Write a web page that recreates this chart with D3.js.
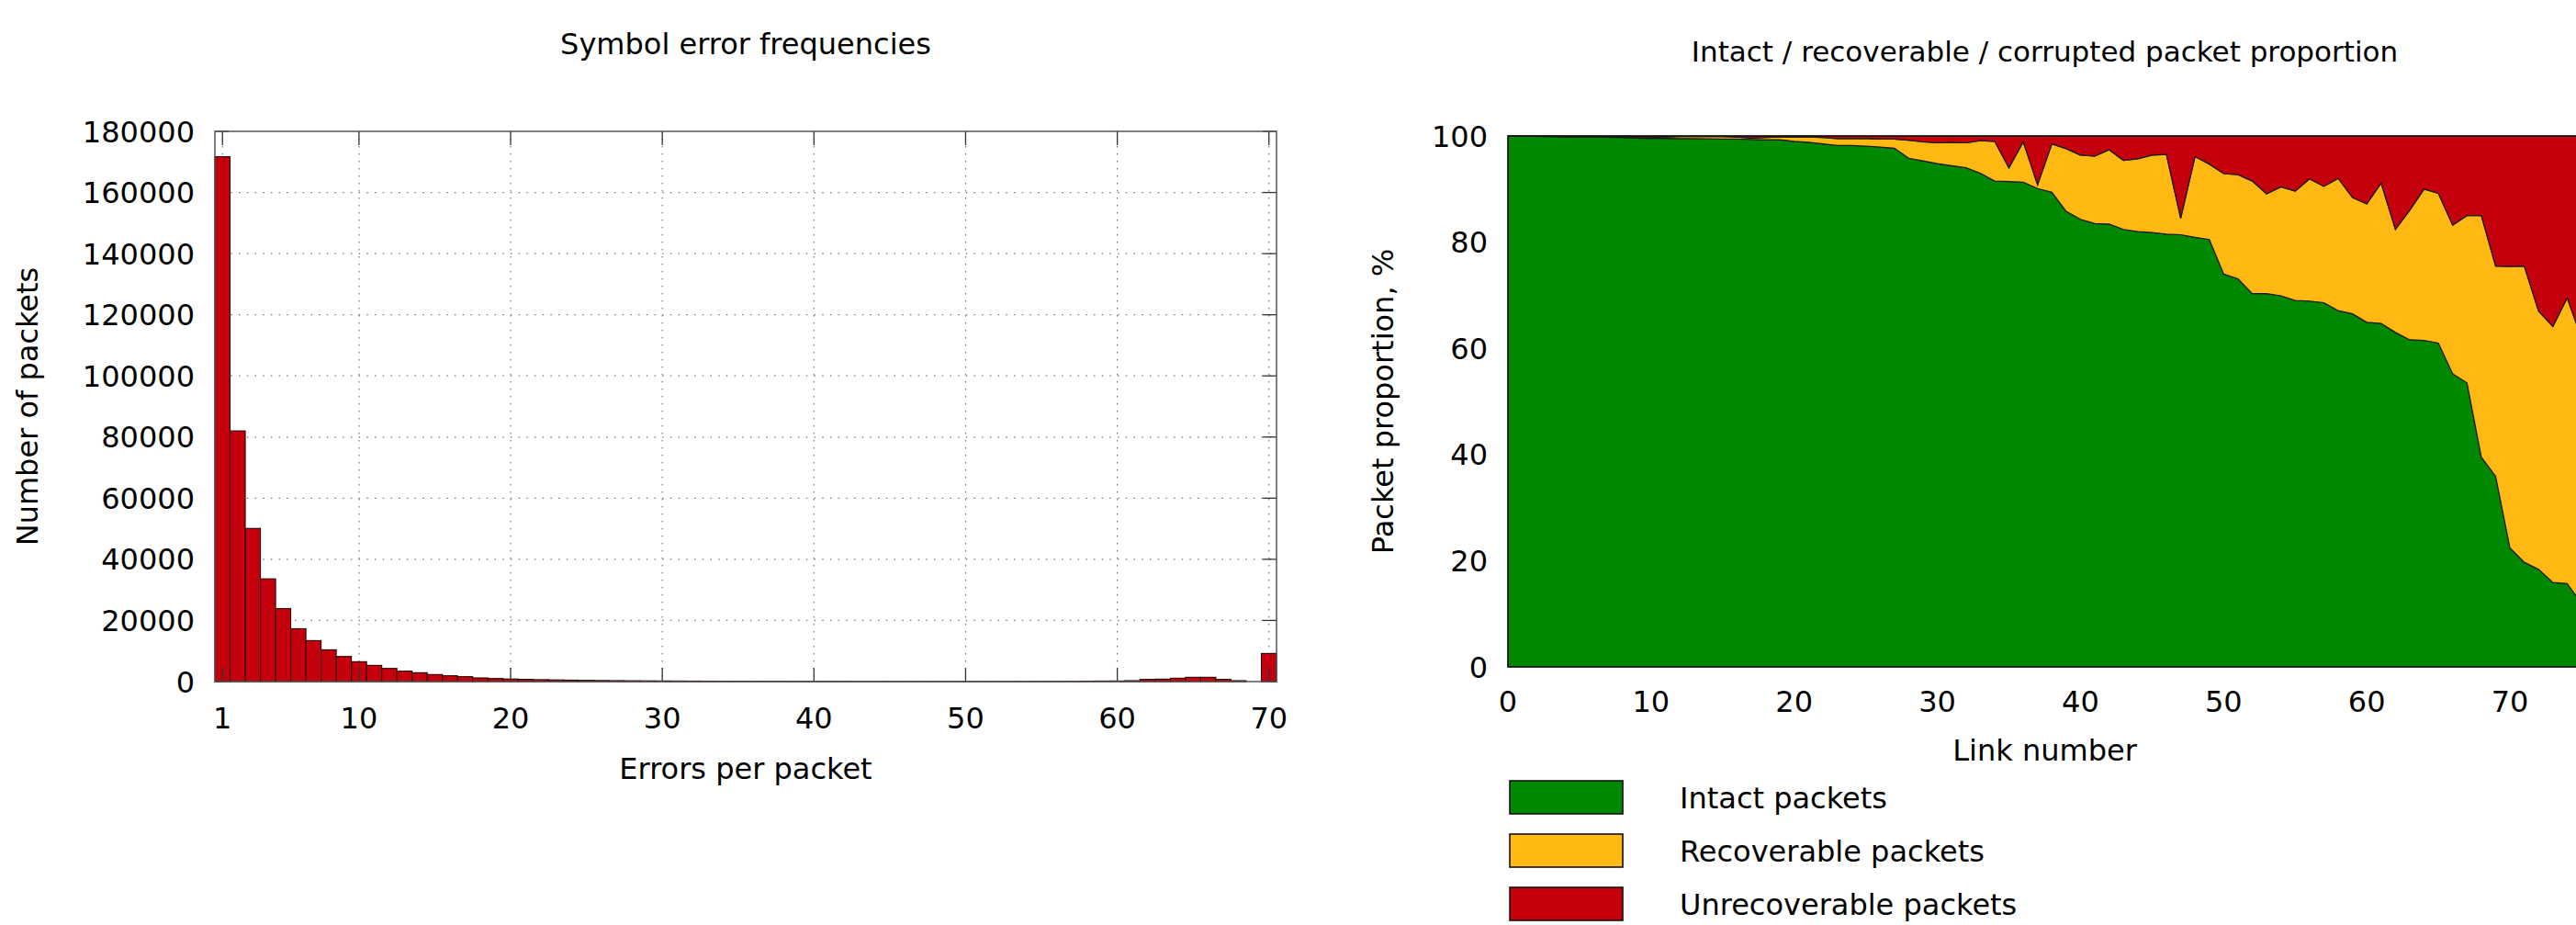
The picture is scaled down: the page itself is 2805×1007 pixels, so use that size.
<!DOCTYPE html>
<html>
<head>
<meta charset="utf-8">
<script src="https://cdn.jsdelivr.net/npm/d3@7"></script>
<style>
  html, body { margin: 0; padding: 0; background: #fff; }
  svg { display: block; }
  text { font-family: "DejaVu Sans", sans-serif; font-size: 32px; fill: #000; }
</style>
</head>
<body>
<svg id="chart" width="2805" height="1007"></svg>
<script>
// ---- Histogram: symbol errors per packet ----
const errorsPerPacket = d3.range(1, 71);
const packetCounts = [
  171700, 82000, 50100, 33600, 23900, 17300, 13400, 10400, 8200, 6500,
  5300, 4300, 3400, 2900, 2300, 1900, 1600, 1200, 1000, 850,
  720, 620, 540, 470, 400, 350, 310, 270, 240, 210,
  190, 170, 150, 130, 110, 100, 90, 80, 70, 60,
  55, 50, 45, 40, 40, 35, 35, 30, 30, 30,
  30, 35, 40, 45, 50, 60, 80, 150, 180, 200,
  300, 700, 800, 1100, 1400, 1400, 700, 300, 0, 9200
];
const histXTicks = [1, 10, 20, 30, 40, 50, 60, 70];
const histYTicks = [0, 20000, 40000, 60000, 80000, 100000, 120000, 140000, 160000, 180000];

// ---- Stacked area: packet outcome proportion per link ----
const linkNumbers = d3.range(0, 76);
const intactPct = [
  100, 99.95, 99.93, 99.9, 99.85, 99.8, 99.8, 99.75, 99.7, 99.6,
  99.55, 99.55, 99.5, 99.5, 99.45, 99.4, 99.4, 99.35, 99.3, 99.3,
  99.0, 98.8, 98.5, 98.2, 98.2, 98.1, 97.9, 97.7, 95.8, 95.3,
  94.8, 94.4, 94.0, 93.0, 91.5, 91.4, 91.3, 90.1, 89.4, 85.8,
  84.3, 83.5, 83.4, 82.4, 82.0, 81.8, 81.5, 81.4, 80.9, 80.5,
  74.0, 73.1, 70.3, 70.3, 69.9, 69.0, 68.9, 68.6, 67.1, 66.5,
  64.9, 64.7, 63.0, 61.6, 61.5, 61.0, 55.2, 53.5, 39.5, 35.9,
  22.4, 19.7, 18.4, 15.9, 15.7, 12.0
];
const recoverablePct = [
  0, 0, 0.02, 0.05, 0.05, 0.1, 0.1, 0.15, 0.15, 0.1,
  0.15, 0.25, 0.4, 0.4, 0.45, 0.5, 0.4, 0.25, 0.4, 0.5,
  0.8, 1.0, 1.2, 1.3, 1.3, 1.4, 1.5, 1.7, 3.4, 3.6,
  3.9, 4.4, 4.7, 6.1, 7.5, 2.6, 7.6, 0.7, 9.1, 11.8,
  12.1, 12.7, 14.0, 13.0, 13.7, 14.6, 15.0, 3.1, 15.2, 14.2,
  18.9, 19.6, 21.2, 18.8, 20.5, 20.6, 23.0, 21.9, 24.9, 21.9,
  22.3, 26.4, 19.4, 24.4, 28.5, 28.2, 28.0, 31.5, 45.5, 39.6,
  53.0, 55.8, 48.6, 48.2, 53.8, 50.0
];
const unrecoverablePct = [
  0, 0.05, 0.05, 0.05, 0.1, 0.1, 0.1, 0.1, 0.15, 0.3,
  0.3, 0.2, 0.1, 0.1, 0.1, 0.1, 0.2, 0.4, 0.3, 0.2,
  0.2, 0.2, 0.3, 0.5, 0.5, 0.5, 0.6, 0.6, 0.8, 1.1,
  1.3, 1.2, 1.3, 0.9, 1.0, 6.0, 1.1, 9.2, 1.5, 2.4,
  3.6, 3.8, 2.6, 4.6, 4.3, 3.6, 3.5, 15.5, 3.9, 5.3,
  7.1, 7.3, 8.5, 10.9, 9.6, 10.4, 8.1, 9.5, 8.0, 11.6,
  12.8, 8.9, 17.6, 14.0, 10.0, 10.8, 16.8, 15.0, 15.0, 24.5,
  24.6, 24.5, 33.0, 35.9, 30.5, 38.0
];
const seriesKeys = ["intact", "recoverable", "unrecoverable"];
const seriesLabels = ["Intact packets", "Recoverable packets", "Unrecoverable packets"];
const seriesColors = ["#008800", "#ffb912", "#c4000d"];
const linkXTicks = [0, 10, 20, 30, 40, 50, 60, 70];
const pctTicks = [0, 20, 40, 60, 80, 100];

const svg = d3.select("#chart");
svg.append("rect").attr("width", 2805).attr("height", 1007).attr("fill", "#fff");

// ================= Left panel: histogram =================
const H = { left: 234, right: 1390, top: 143, bottom: 742 };
const hx = d3.scaleLinear().domain([0.5, 70.5]).range([H.left, H.right]);
const hy = d3.scaleLinear().domain([0, 180000]).range([H.bottom, H.top]);
const hist = svg.append("g");

// dotted grid
hist.append("g").selectAll("line.vg").data(histXTicks).join("line")
  .attr("x1", d => hx(d)).attr("x2", d => hx(d))
  .attr("y1", H.top).attr("y2", H.bottom)
  .attr("stroke", "#777").attr("stroke-width", 1.2).attr("stroke-dasharray", "1.5,6.5");
hist.append("g").selectAll("line.hg").data(histYTicks.slice(1, -1)).join("line")
  .attr("x1", H.left).attr("x2", H.right)
  .attr("y1", d => hy(d)).attr("y2", d => hy(d))
  .attr("stroke", "#777").attr("stroke-width", 1.2).attr("stroke-dasharray", "1.5,7.2");

// y ticks (inside, mirrored)
const yTickG = hist.append("g");
yTickG.selectAll("line.l").data(histYTicks).join("line")
  .attr("x1", H.left).attr("x2", H.left + 15)
  .attr("y1", d => hy(d)).attr("y2", d => hy(d)).attr("stroke", "#333").attr("stroke-width", 1.3);
yTickG.selectAll("line.r").data(histYTicks).join("line")
  .attr("x1", H.right).attr("x2", H.right - 15)
  .attr("y1", d => hy(d)).attr("y2", d => hy(d)).attr("stroke", "#333").attr("stroke-width", 1.3);

// bars
hist.append("g").selectAll("rect").data(errorsPerPacket).join("rect")
  .attr("x", (d) => hx(d - 0.5))
  .attr("width", (d) => hx(d + 0.5) - hx(d - 0.5))
  .attr("y", (d, i) => hy(packetCounts[i]))
  .attr("height", (d, i) => hy(0) - hy(packetCounts[i]))
  .attr("fill", seriesColors[2])
  .attr("stroke", "#2a0000").attr("stroke-width", 1.1);

// x ticks (inside, mirrored) drawn over the bars
const xTickG = hist.append("g");
xTickG.selectAll("line.b").data(histXTicks).join("line")
  .attr("x1", d => hx(d)).attr("x2", d => hx(d))
  .attr("y1", H.bottom).attr("y2", H.bottom - 15).attr("stroke", "#333").attr("stroke-width", 1.3);
xTickG.selectAll("line.t").data(histXTicks).join("line")
  .attr("x1", d => hx(d)).attr("x2", d => hx(d))
  .attr("y1", H.top).attr("y2", H.top + 15).attr("stroke", "#333").attr("stroke-width", 1.3);

// frame
hist.append("rect")
  .attr("x", H.left).attr("y", H.top)
  .attr("width", H.right - H.left).attr("height", H.bottom - H.top)
  .attr("fill", "none").attr("stroke", "#555").attr("stroke-width", 1.5);

// tick labels
hist.append("g").selectAll("text").data(histYTicks).join("text")
  .attr("x", 212).attr("y", d => hy(d)).attr("dy", "0.36em")
  .attr("text-anchor", "end").text(d => d);
hist.append("g").selectAll("text").data(histXTicks).join("text")
  .attr("x", d => hx(d)).attr("y", 793)
  .attr("text-anchor", "middle").text(d => d);

// titles
hist.append("text").attr("x", (H.left + H.right) / 2).attr("y", 59)
  .attr("text-anchor", "middle").text("Symbol error frequencies");
hist.append("text").attr("x", (H.left + H.right) / 2).attr("y", 848)
  .attr("text-anchor", "middle").text("Errors per packet");
hist.append("text")
  .attr("transform", `translate(41,${(H.top + H.bottom) / 2}) rotate(-90)`)
  .attr("text-anchor", "middle").text("Number of packets");

// ================= Right panel: stacked proportions =================
const P = { left: 1642, right: 2811, top: 148, bottom: 726 };
const px = d3.scaleLinear().domain([0, 75]).range([P.left, P.right]);
const py = d3.scaleLinear().domain([0, 100]).range([P.bottom, P.top]);
const prop = svg.append("g");

const table = linkNumbers.map((n, i) => ({
  link: n,
  intact: intactPct[i],
  recoverable: recoverablePct[i],
  unrecoverable: unrecoverablePct[i]
}));
const stacked = d3.stack().keys(seriesKeys)(table);
const area = d3.area()
  .x(d => px(d.data.link))
  .y0(d => py(d[0]))
  .y1(d => py(d[1]));

prop.append("g").selectAll("path").data(stacked).join("path")
  .attr("d", area)
  .attr("fill", (d, i) => seriesColors[i])
  .attr("stroke", "#1a1a1a").attr("stroke-width", 1.2)
  .attr("stroke-linejoin", "miter");

// frame
prop.append("rect")
  .attr("x", P.left).attr("y", P.top)
  .attr("width", P.right - P.left).attr("height", P.bottom - P.top)
  .attr("fill", "none").attr("stroke", "#111").attr("stroke-width", 1.5);

// tick labels
prop.append("g").selectAll("text").data(pctTicks).join("text")
  .attr("x", 1620).attr("y", d => py(d)).attr("dy", "0.36em")
  .attr("text-anchor", "end").text(d => d);
prop.append("g").selectAll("text").data(linkXTicks).join("text")
  .attr("x", d => px(d)).attr("y", 775)
  .attr("text-anchor", "middle").text(d => d);

// titles
prop.append("text").attr("x", (P.left + P.right) / 2).attr("y", 67)
  .attr("text-anchor", "middle").style("font-size", "31px")
  .text("Intact / recoverable / corrupted packet proportion");
prop.append("text").attr("x", (P.left + P.right) / 2).attr("y", 828)
  .attr("text-anchor", "middle").text("Link number");
prop.append("text")
  .attr("transform", `translate(1517,${(P.top + P.bottom) / 2}) rotate(-90)`)
  .attr("text-anchor", "middle").text("Packet proportion, %");

// legend
const legend = prop.append("g").selectAll("g").data(seriesLabels).join("g")
  .attr("transform", (d, i) => `translate(1644,${850 + i * 58})`);
legend.append("rect")
  .attr("width", 123).attr("height", 36)
  .attr("fill", (d, i) => seriesColors[i])
  .attr("stroke", "#111").attr("stroke-width", 1.6);
legend.append("text")
  .attr("x", 185).attr("y", 18).attr("dy", "0.36em")
  .text(d => d);
</script>
</body>
</html>
